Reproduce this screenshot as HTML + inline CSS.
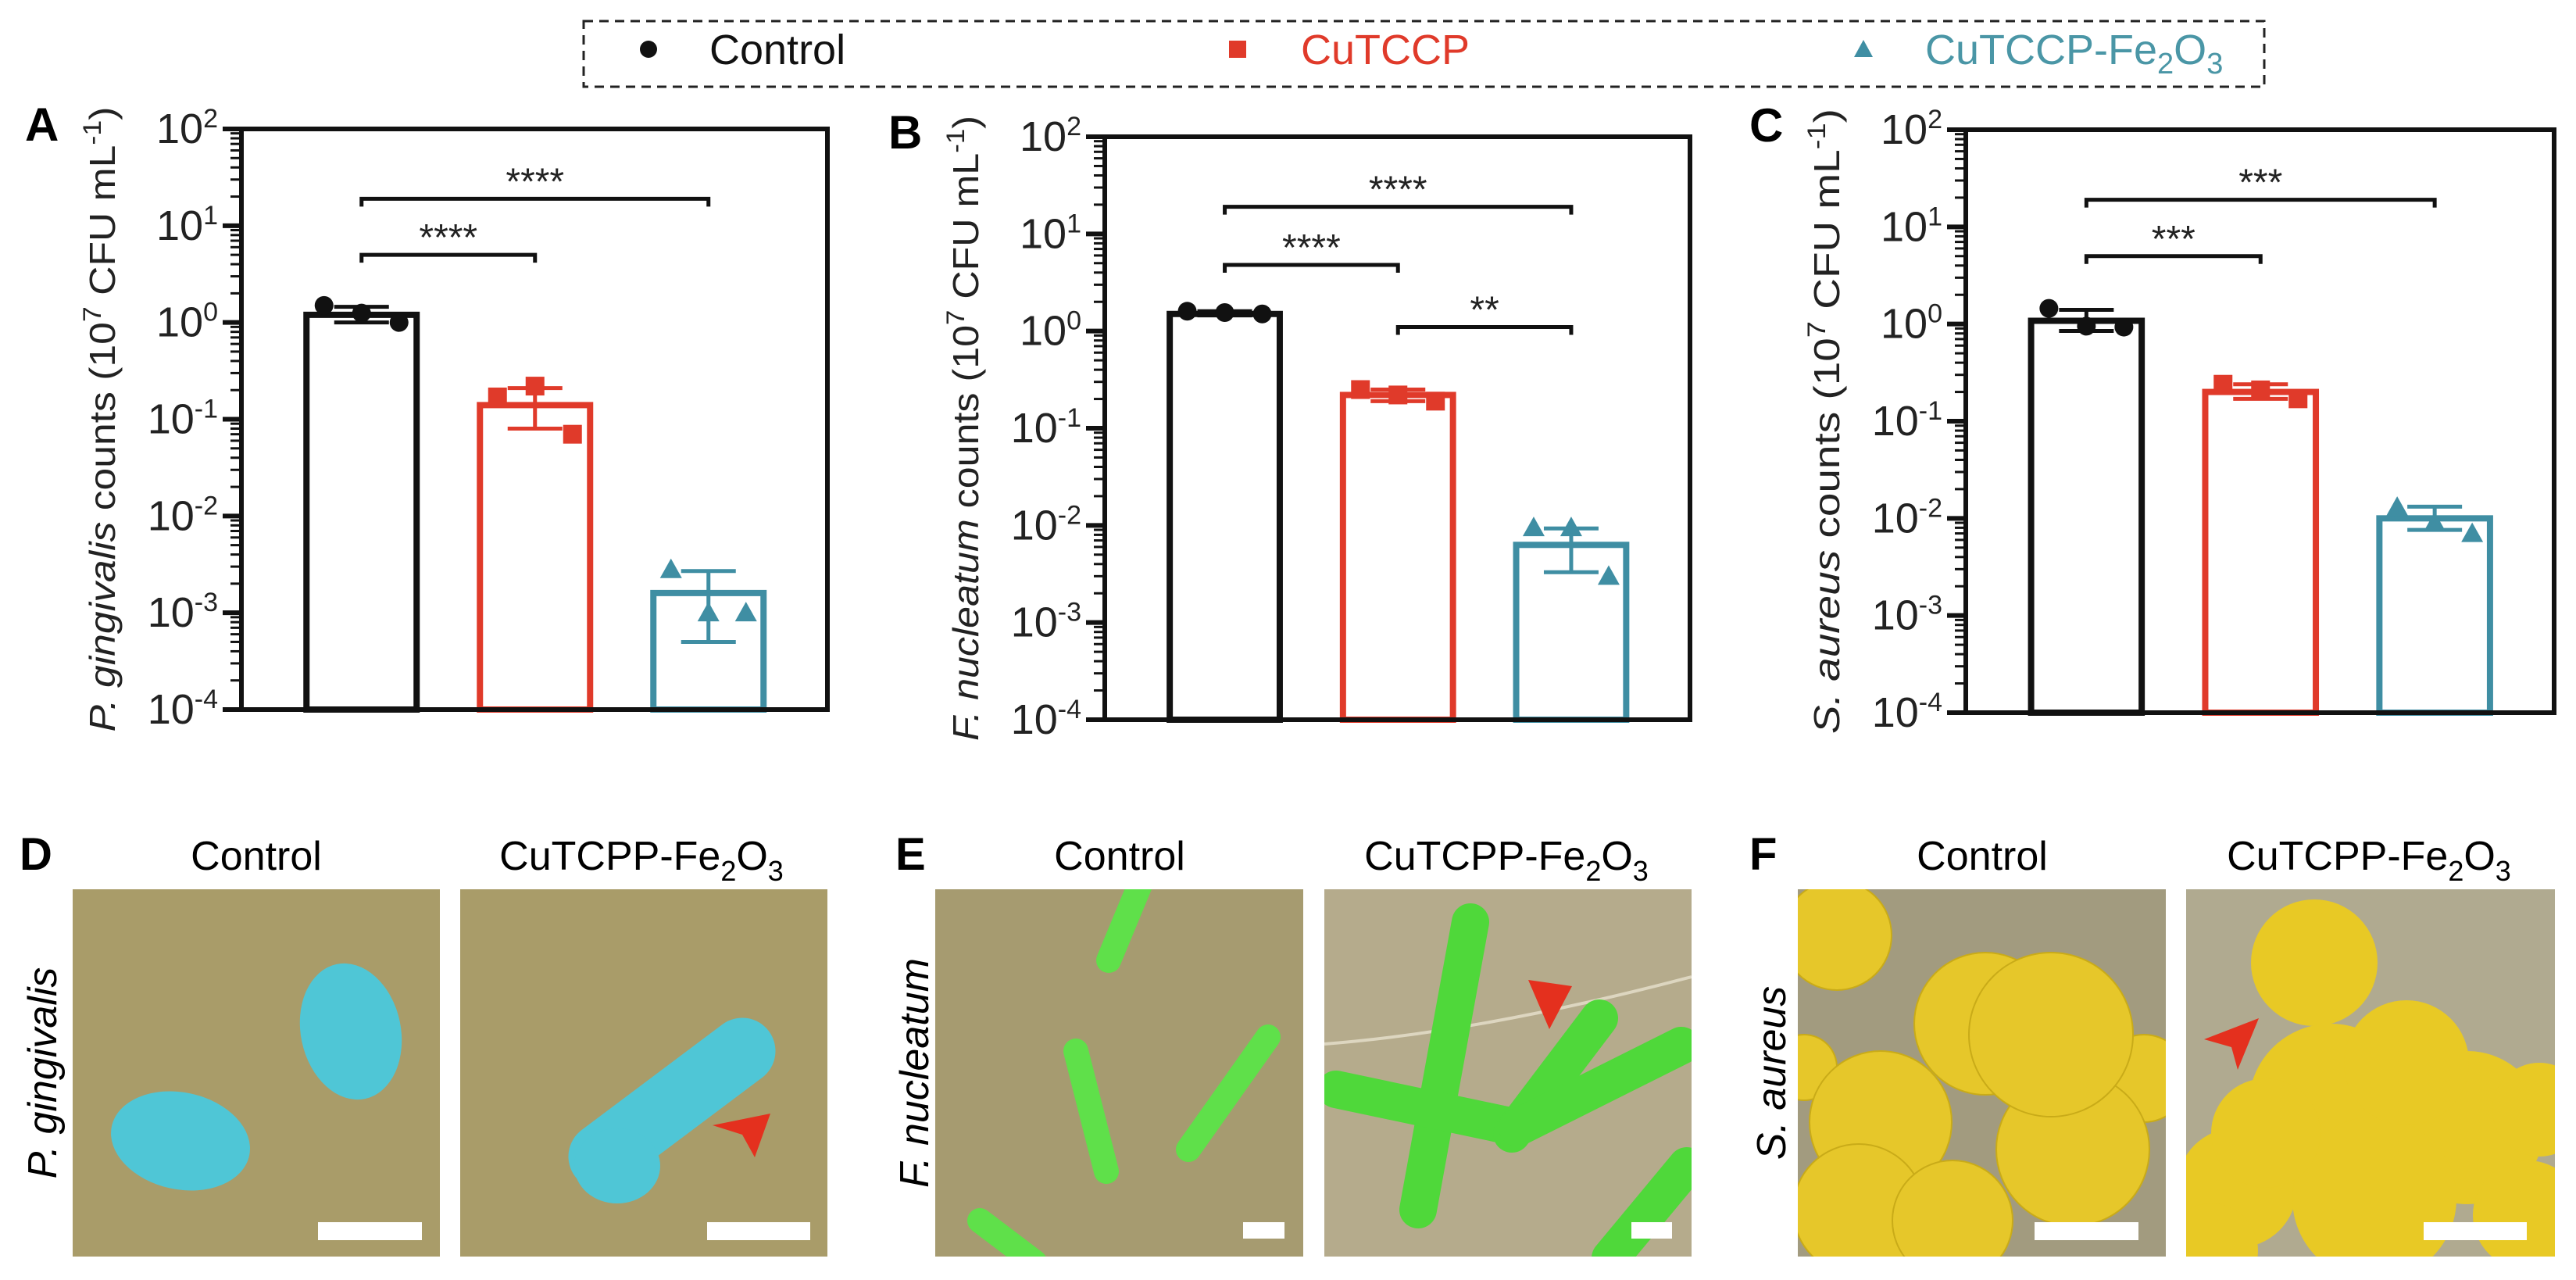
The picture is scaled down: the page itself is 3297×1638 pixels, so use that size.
<!DOCTYPE html>
<html><head><meta charset="utf-8">
<style>
html,body{margin:0;padding:0;background:#fff;}
svg{display:block;font-family:"Liberation Sans",Arial,sans-serif;}
</style></head>
<body>
<svg id="fig" width="3297" height="1638" viewBox="0 0 3297 1638" xmlns="http://www.w3.org/2000/svg">
<defs>
  <clipPath id="cD1"><rect x="93" y="1138" width="470" height="470"/></clipPath>
  <clipPath id="cD2"><rect x="589" y="1138" width="470" height="470"/></clipPath>
  <clipPath id="cE1"><rect x="1197" y="1138" width="471" height="470"/></clipPath>
  <clipPath id="cE2"><rect x="1695" y="1138" width="470" height="470"/></clipPath>
  <clipPath id="cF1"><rect x="2301" y="1138" width="471" height="470"/></clipPath>
  <clipPath id="cF2"><rect x="2798" y="1138" width="472" height="470"/></clipPath>
</defs>

<g>
  <rect x="747" y="27" width="2151" height="84" fill="none" stroke="#222" stroke-width="3" stroke-dasharray="12 8"/>
  <g>
    <circle cx="830" cy="63" r="11" fill="#111"/>
    <text x="908" y="82" font-size="54" fill="#111">Control</text>
  </g>
  <g>
    <rect x="1573" y="52" width="22" height="22" fill="#e03a2a"/>
    <text x="1665" y="82" font-size="54" fill="#e03a2a">CuTCCP</text>
  </g>
  <g>
    <polygon points="2385,51 2397,73 2373,73" fill="#3f8ea3"/>
    <text x="2464" y="82" font-size="54" fill="#4a96a6">CuTCCP-Fe<tspan font-size="38" dy="12">2</tspan><tspan dy="-12">O</tspan><tspan font-size="38" dy="12">3</tspan></text>
  </g>
</g>

<g id="charts"></g>

<g>
  <text x="25" y="1113" font-size="58" font-weight="bold">D</text>
  <text x="328" y="1113" font-size="52" text-anchor="middle">Control</text>
  <text x="821" y="1113" font-size="52" text-anchor="middle">CuTCPP-Fe<tspan font-size="36" dy="14">2</tspan><tspan dy="-14">O</tspan><tspan font-size="36" dy="14">3</tspan></text>
  <text transform="translate(72,1373) rotate(-90)" font-size="52" font-style="italic" text-anchor="middle">P. gingivalis</text>
  <g clip-path="url(#cD1)">
    <rect x="93" y="1138" width="470" height="470" fill="#a99c69"/>
    <ellipse cx="231" cy="1460" rx="90" ry="62" transform="rotate(12 231 1460)" fill="#4fc6d6"/>
    <ellipse cx="449" cy="1320" rx="64" ry="88" transform="rotate(-12 449 1320)" fill="#4fc6d6"/>
    <rect x="407" y="1564" width="133" height="23" fill="#fff"/>
  </g>
  <g clip-path="url(#cD2)">
    <rect x="589" y="1138" width="470" height="470" fill="#a99c69"/>
    <line x1="770" y1="1480" x2="950" y2="1345" stroke="#4fc6d6" stroke-width="85" stroke-linecap="round"/>
    <ellipse cx="790" cy="1492" rx="55" ry="48" fill="#4fc6d6"/>
    <polygon points="912,1440 986,1425 966,1481 950,1452" fill="#e4301e"/>
    <rect x="905" y="1564" width="132" height="23" fill="#fff"/>
  </g>
</g>

<g>
  <text x="1146" y="1113" font-size="58" font-weight="bold">E</text>
  <text x="1433" y="1113" font-size="52" text-anchor="middle">Control</text>
  <text x="1928" y="1113" font-size="52" text-anchor="middle">CuTCPP-Fe<tspan font-size="36" dy="14">2</tspan><tspan dy="-14">O</tspan><tspan font-size="36" dy="14">3</tspan></text>
  <text transform="translate(1188,1373) rotate(-90)" font-size="52" font-style="italic" text-anchor="middle">F. nucleatum</text>
  <g clip-path="url(#cE1)">
    <rect x="1197" y="1138" width="471" height="470" fill="#a69b70"/>
    <g stroke="#5fe04a" stroke-linecap="round" stroke-width="32">
      <line x1="1377" y1="1345" x2="1416" y2="1499"/>
      <line x1="1623" y1="1327" x2="1521" y2="1471"/>
      <line x1="1460" y1="1130" x2="1419" y2="1229"/>
      <line x1="1254" y1="1562" x2="1324" y2="1615"/>
    </g>
    <rect x="1591" y="1564" width="53" height="21" fill="#fff"/>
  </g>
  <g clip-path="url(#cE2)">
    <rect x="1695" y="1138" width="470" height="470" fill="#b5ab8c"/>
    <path d="M1695,1336 Q1900,1320 2165,1250" stroke="#ddd6c0" stroke-width="4" fill="none"/>
    <g stroke="#4fd83a" stroke-linecap="round" stroke-width="48">
      <line x1="1882" y1="1180" x2="1815" y2="1548"/>
      <line x1="1710" y1="1394" x2="1942" y2="1443"/>
      <line x1="2047" y1="1303" x2="1935" y2="1451"/>
      <line x1="2152" y1="1338" x2="1942" y2="1443"/>
      <line x1="2159" y1="1492" x2="2061" y2="1610"/>
    </g>
    <polygon points="1956,1254 2012,1262 1983,1317" fill="#e4301e"/>
    <rect x="2088" y="1564" width="52" height="21" fill="#fff"/>
  </g>
</g>

<g>
  <text x="2239" y="1113" font-size="58" font-weight="bold">F</text>
  <text x="2537" y="1113" font-size="52" text-anchor="middle">Control</text>
  <text x="3032" y="1113" font-size="52" text-anchor="middle">CuTCPP-Fe<tspan font-size="36" dy="14">2</tspan><tspan dy="-14">O</tspan><tspan font-size="36" dy="14">3</tspan></text>
  <text transform="translate(2285,1373) rotate(-90)" font-size="52" font-style="italic" text-anchor="middle">S. aureus</text>
  <g clip-path="url(#cF1)">
    <rect x="2301" y="1138" width="471" height="470" fill="#a29b7f"/>
    <g fill="#e6c72a" stroke="#c9ab18" stroke-width="2">
      <circle cx="2351" cy="1197" r="70"/>
      <circle cx="2309" cy="1366" r="42"/>
      <circle cx="2541" cy="1310" r="91"/>
      <circle cx="2744" cy="1380" r="56"/>
      <circle cx="2407" cy="1436" r="91"/>
      <circle cx="2653" cy="1471" r="98"/>
      <circle cx="2625" cy="1324" r="105"/>
      <circle cx="2379" cy="1548" r="84"/>
      <circle cx="2499" cy="1562" r="77"/>
    </g>
    <rect x="2604" y="1564" width="133" height="23" fill="#fff"/>
  </g>
  <g clip-path="url(#cF2)">
    <rect x="2798" y="1138" width="472" height="470" fill="#b0aa90"/>
    <g fill="#e8c925">
      <circle cx="2962" cy="1232" r="81"/>
      <circle cx="2983" cy="1415" r="105"/>
      <circle cx="3158" cy="1443" r="98"/>
      <circle cx="2863" cy="1520" r="77"/>
      <circle cx="3039" cy="1534" r="105"/>
      <circle cx="3235" cy="1555" r="70"/>
      <circle cx="2830" cy="1600" r="60"/>
      <circle cx="3080" cy="1360" r="80"/>
      <circle cx="3250" cy="1420" r="60"/>
      <circle cx="2900" cy="1450" r="70"/>
    </g>
    <polygon points="2821,1330 2891,1303 2864,1369 2856,1340" fill="#e4301e"/>
    <rect x="3102" y="1564" width="132" height="23" fill="#fff"/>
  </g>
</g>
</svg>

<script>
// ---- Chart data ----
const groups = ["Control", "CuTCCP", "CuTCCP-Fe2O3"];
const tickExps = [2, 1, 0, -1, -2, -3, -4];

const meanA = [1.2, 0.14, 0.0016];
const ptsA = [[1.5, 1.25, 1.0], [0.17, 0.22, 0.07], [0.0028, 0.001, 0.001]];
const hiA = [1.45, 0.21, 0.0027];
const loA = [1.0, 0.08, 0.0005];
const sigA = [[0, 1, "****", 5], [0, 2, "****", 19]];

const meanB = [1.5, 0.22, 0.0063];
const ptsB = [[1.6, 1.55, 1.5], [0.25, 0.22, 0.19], [0.0095, 0.0095, 0.003]];
const hiB = [1.6, 0.25, 0.0093];
const loB = [1.45, 0.19, 0.0033];
const sigB = [[0, 1, "****", 4.8], [0, 2, "****", 19], [1, 2, "**", 1.1]];

const meanC = [1.08, 0.2, 0.01];
const ptsC = [[1.45, 0.95, 0.93], [0.24, 0.21, 0.17], [0.013, 0.009, 0.007]];
const hiC = [1.4, 0.24, 0.0132];
const loC = [0.85, 0.17, 0.0076];
const sigC = [[0, 1, "***", 5], [0, 2, "***", 19]];

const colors = ["#111111", "#e03a2a", "#3f8ea3"];
const NS = "http://www.w3.org/2000/svg";
const root = document.getElementById("charts");

function mk(tag, attrs, parent) {
  const e = document.createElementNS(NS, tag);
  for (const k in attrs) e.setAttribute(k, attrs[k]);
  parent.appendChild(e);
  return e;
}

function drawPanel(cfg) {
  const g = mk("g", {}, root);
  
  
  const L = cfg.left, R = cfg.right, T = cfg.top, B = cfg.bottom;
  const y = v => B - (Math.log10(v) + 4) / 6 * (B - T);
  const x0 = L + (R - L) * 0.205;
  const xc = i => x0 + i * (R - L) * 0.296;
  const bw = (R - L) * 0.188;

  const lt = mk("text", {x: cfg.left - 277, y: T + 15, "font-size": 60, "font-weight": "bold"}, g);
  lt.textContent = cfg.letter;
  
  

  const yt = mk("text", {transform: `translate(${L - 162},${(T + B) / 2}) rotate(-90)`, "font-size": 46, "text-anchor": "middle", textLength: 800, lengthAdjust: "spacingAndGlyphs", fill: "#222"}, g);
  
  
  const ti = mk("tspan", {"font-style": "italic"}, yt); ti.textContent = cfg.species;
  const t2 = mk("tspan", {}, yt); t2.textContent = "  counts (10";
  const t3 = mk("tspan", {dy: -18, "font-size": 32}, yt); t3.textContent = "7";
  const t4 = mk("tspan", {dy: 18}, yt); t4.textContent = " CFU mL";
  const t5 = mk("tspan", {dy: -18, "font-size": 32}, yt); t5.textContent = "-1";
  const t6 = mk("tspan", {dy: 18}, yt); t6.textContent = ")";

  for (let e = -4; e < 2; e++) {
    for (let m = 2; m <= 9; m++) {
      const yy = y(m * Math.pow(10, e));
      mk("line", {x1: L - 14, x2: L, y1: yy, y2: yy, stroke: "#111", "stroke-width": 3}, g);
    }
  }
  tickExps.forEach(ex => {
    const yy = y(Math.pow(10, ex));
    const tk = mk("line", {x1: L - 24, x2: L, y1: yy, y2: yy, stroke: "#111", "stroke-width": 6}, g);
    
    
    const tl = mk("text", {x: L - 30, y: yy + 18, "font-size": 54, "text-anchor": "end", fill: "#222"}, g);
    
    
    const a = mk("tspan", {}, tl); a.textContent = "10";
    const b = mk("tspan", {dy: -20, "font-size": 34}, tl); b.textContent = String(ex);
  });

  cfg.mean.forEach((v, i) => {
    const r = mk("rect", {x: xc(i) - bw / 2, y: y(v), width: bw, height: B - y(v), fill: "none", stroke: colors[i], "stroke-width": 8}, g);
    
    
    const eb = mk("g", {stroke: colors[i], "stroke-width": 5}, g);
    
    
    mk("line", {x1: xc(i), x2: xc(i), y1: y(cfg.hi[i]), y2: y(cfg.lo[i])}, eb);
    mk("line", {x1: xc(i) - 35, x2: xc(i) + 35, y1: y(cfg.hi[i]), y2: y(cfg.hi[i])}, eb);
    mk("line", {x1: xc(i) - 35, x2: xc(i) + 35, y1: y(cfg.lo[i]), y2: y(cfg.lo[i])}, eb);
    cfg.pts[i].forEach((p, j) => {
      const px = xc(i) + (j - 1) * 48, py = y(p);
      let m;
      if (i === 0) m = mk("circle", {cx: px, cy: py, r: 12, fill: colors[i]}, g);
      else if (i === 1) m = mk("rect", {x: px - 12, y: py - 12, width: 24, height: 24, fill: colors[i]}, g);
      else m = mk("polygon", {points: `${px},${py - 14} ${px + 14},${py + 11} ${px - 14},${py + 11}`, fill: colors[i]}, g);
      
      
    });
  });

  const fr = mk("rect", {x: L, y: T, width: R - L, height: B - T, fill: "none", stroke: "#111", "stroke-width": 6}, g);
  
  

  cfg.sig.forEach(s => {
    const yy = y(s[3]);
    const sg = mk("g", {}, g);
    
    
    mk("path", {d: `M${xc(s[0])},${yy + 10} V${yy} H${xc(s[1])} V${yy + 10}`, fill: "none", stroke: "#111", "stroke-width": 5}, sg);
    const st = mk("text", {x: (xc(s[0]) + xc(s[1])) / 2, y: yy - 6, "font-size": 48, "text-anchor": "middle", fill: "#222"}, sg);
    st.textContent = s[2];
  });
}

drawPanel({letter: "A", species: "P. gingivalis", left: 309, right: 1059, top: 165, bottom: 908, mean: meanA, pts: ptsA, hi: hiA, lo: loA, sig: sigA});
drawPanel({letter: "B", species: "F. nucleatum", left: 1414, right: 2163, top: 175, bottom: 921, mean: meanB, pts: ptsB, hi: hiB, lo: loB, sig: sigB});
drawPanel({letter: "C", species: "S. aureus", left: 2516, right: 3269, top: 166, bottom: 912, mean: meanC, pts: ptsC, hi: hiC, lo: loC, sig: sigC});
</script>
</body></html>
